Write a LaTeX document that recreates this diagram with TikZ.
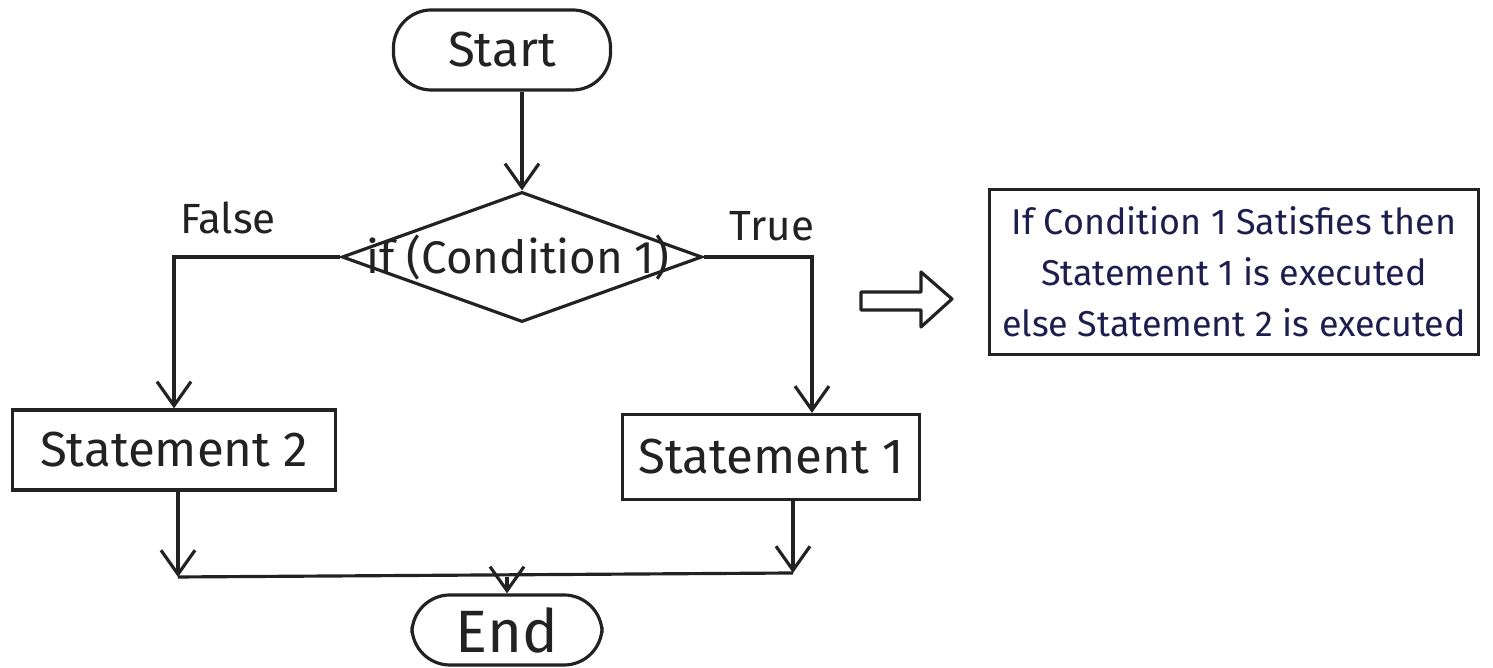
\documentclass[tikz,border=0pt]{standalone}
\usepackage{fontspec}
\setmainfont{Fira Sans}
\usetikzlibrary{arrows.meta,shapes.geometric}
\definecolor{ink}{HTML}{222222}
\definecolor{pen}{HTML}{1E1E4E}
\tikzset{
  line/.style={line width=0.9pt,draw=ink},
  arr/.style={line,-{Straight Barb[length=2.4mm,width=3.4mm,line width=0.9pt]}},
  terminal/.style={line,rectangle,rounded corners=0.38cm,inner sep=0pt},
  procbox/.style={line,rectangle,inner sep=0pt},
  decision/.style={line,diamond,inner sep=0pt,minimum width=3.6cm,minimum height=1.3cm},
  lbl/.style={text=ink,font=\fontsize{12}{14}\selectfont},
  big/.style={text=ink,font=\fontsize{14}{16}\selectfont},
}
\begin{document}
\begin{tikzpicture}[x=0.01cm,y=-0.01cm]
\useasboundingbox (0,0) rectangle (1493,668);
% nodes
\node[terminal,minimum width=2.17cm,minimum height=0.8cm,big] (start) at (502,50) {Start};
\node[decision] (dia) at (522,257) {};
\node[text=ink,font=\fontsize{13}{15}\selectfont] (cond) at (518,258) {if (Condition 1)};
\node[procbox,minimum width=3.23cm,minimum height=0.8cm,big] (s2) at (174,450) {Statement 2};
\node[procbox,minimum width=2.97cm,minimum height=0.85cm,big] (s1) at (771,457) {Statement 1};
\node[terminal,minimum width=1.9cm,minimum height=0.7cm,text=ink,font=\fontsize{17}{19}\selectfont] (end) at (507,630) {End};
\node[lbl] (false) at (228,218) {False};
\node[lbl] (true) at (772,226) {True};
\node[procbox,minimum width=4.88cm,minimum height=1.65cm,text=pen,align=center,
      font=\fontsize{10.2}{14.5}\selectfont] (note) at (1234,272)
  {If Condition 1 Satisfies then\\ Statement 1 is executed\\ else Statement 2 is executed};
% connectors
\coordinate (rc) at (812,257);
\coordinate (jl) at (178,577);
\coordinate (jr) at (793,573);
\draw[arr] (dia.north |- start.south) -- (dia.north);
\draw[arr] (dia.west) -| (s2.north);
\draw[arr] (dia.east) -- (rc) -- (rc |- s1.north);
\draw[arr] (s2.south -| jl) -- (jl);
\draw[arr] (s1.south -| jr) -- (jr);
\draw[line] (jl) -- (jr);
\draw[arr] (end.north |- jl) -- (end.north);
% hollow implication arrow
\draw[line,line join=round] (861,292) -- (921,292) -- (921,272) -- (952,299) -- (921,327) -- (921,310) -- (861,310) -- cycle;
\end{tikzpicture}
\end{document}
